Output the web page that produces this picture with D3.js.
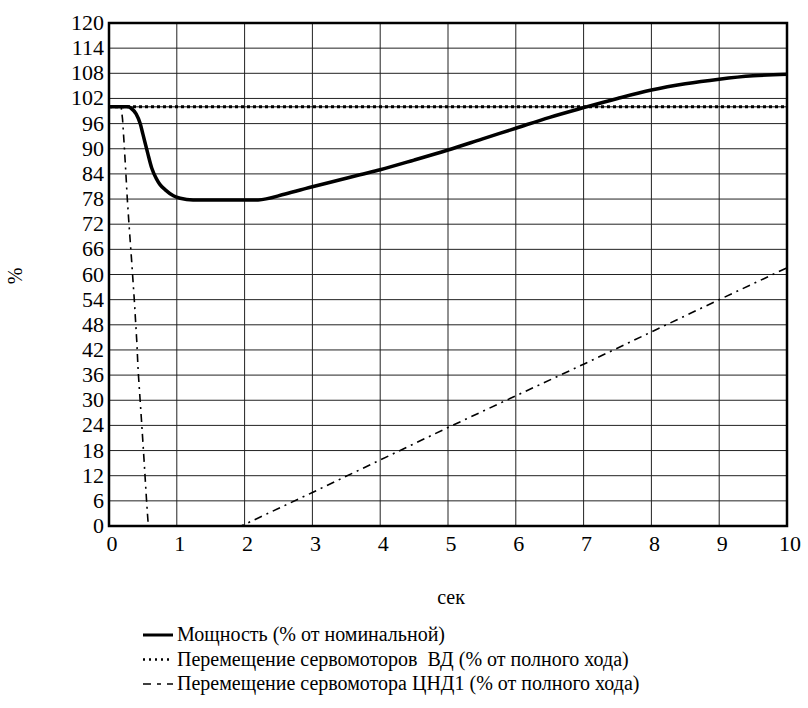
<!DOCTYPE html>
<html>
<head>
<meta charset="utf-8">
<script src="https://cdn.jsdelivr.net/npm/d3@7"></script>
<style>
  body { margin: 0; }
  svg#chart text { font-family: 'Liberation Serif', 'Times New Roman', serif !important; }
</style>
</head>
<body>
<svg id="chart" width="808" height="708"></svg>
<script>
// time, seconds
var powerT = [0, 0.28, 0.33, 0.4, 0.46, 0.5, 0.57, 0.63, 0.7, 0.75, 0.83, 0.95, 1.05, 1.24, 2.2, 2.6, 2.97, 3.41, 3.7, 4.0, 4.5, 5.0, 5.5, 6.0, 6.5, 7.0, 7.5, 8.0, 8.5, 9.0, 9.5, 10];
var powerV = [100, 100, 99.6, 98.3, 96, 93.5, 89, 85.4, 82.8, 81.5, 80.2, 78.8, 78.2, 77.8, 77.8, 79.2, 80.8, 82.6, 83.8, 85, 87.3, 89.7, 92.3, 94.9, 97.5, 99.8, 102, 104, 105.5, 106.6, 107.4, 107.8];

var vdT = [0, 10];
var vdV = [100, 100];

var cndT = [0, 0.18, 0.2, 0.22, 0.246, 0.27, 0.295, 0.335, 0.373, 0.41, 0.43, 0.48, 0.516, 0.556, 0.58, 1.95, 3, 5, 7, 9, 10];
var cndV = [100, 100, 97, 92, 85, 78, 72, 63, 54, 44, 37, 25, 16, 5.5, 0, 0, 8, 23.5, 38.6, 54, 61.6];

var xTicks = [0, 1, 2, 3, 4, 5, 6, 7, 8, 9, 10];
var yTicks = d3.range(0, 121, 6);

var legendLabels = [
  "Мощность (% от номинальной)",
  "Перемещение сервомоторов  ВД (% от полного хода)",
  "Перемещение сервомотора ЦНД1 (% от полного хода)"
];

var FONT = "'Liberation Serif', 'Times New Roman', serif";
var svg = d3.select('#chart');
var m = {left: 109, right: 787, top: 23, bottom: 526};

var x = d3.scaleLinear().domain([0, 10]).range([m.left, m.right]);
var y = d3.scaleLinear().domain([0, 120]).range([m.bottom, m.top]);

// grid
svg.append('g').selectAll('line').data(xTicks).join('line')
  .attr('x1', d => x(d)).attr('x2', d => x(d))
  .attr('y1', m.top).attr('y2', m.bottom)
  .attr('stroke', '#222').attr('stroke-width', 1);
svg.append('g').selectAll('line').data(yTicks).join('line')
  .attr('x1', m.left).attr('x2', m.right)
  .attr('y1', d => y(d)).attr('y2', d => y(d))
  .attr('stroke', '#222').attr('stroke-width', 1);

// tick labels
svg.selectAll('text.xt').data(xTicks).join('text').attr('class', 'xt')
  .attr('x', d => x(d) + 3).attr('y', m.bottom + 25)
  .attr('text-anchor', 'middle')
  .style('font-family', FONT, 'important').style('font-size', '22px')
  .text(d => d);

svg.selectAll('text.yt').data(yTicks).join('text').attr('class', 'yt')
  .attr('x', m.left - 5).attr('y', d => y(d) + 7)
  .attr('text-anchor', 'end')
  .style('font-family', FONT, 'important').style('font-size', '22px')
  .text(d => d);

// series
var line = d3.line().x(d => x(d[0])).y(d => y(d[1]));

var vdData = d3.zip(vdT, vdV);
svg.append('path').attr('d', line(vdData))
  .attr('fill', 'none').attr('stroke', '#000').attr('stroke-width', 1);
svg.append('path').attr('d', line(vdData))
  .attr('fill', 'none').attr('stroke', '#000').attr('stroke-width', 3)
  .attr('stroke-dasharray', '3,3');

svg.append('path').attr('d', line(d3.zip(cndT, cndV)))
  .attr('fill', 'none').attr('stroke', '#000').attr('stroke-width', 1.6)
  .attr('stroke-dasharray', '8,5,2,5');

svg.append('path').attr('d', d3.line().curve(d3.curveMonotoneX).x(d => x(d[0])).y(d => y(d[1]))(d3.zip(powerT, powerV)))
  .attr('fill', 'none').attr('stroke', '#000').attr('stroke-width', 3.5)
  .attr('stroke-linejoin', 'round');

// frame
svg.append('rect')
  .attr('x', m.left).attr('y', m.top)
  .attr('width', m.right - m.left).attr('height', m.bottom - m.top)
  .attr('fill', 'none').attr('stroke', '#000').attr('stroke-width', 2.5);

// axis titles
svg.append('text').attr('x', 451).attr('y', 604).attr('text-anchor', 'middle')
  .style('font-family', FONT, 'important').style('font-size', '20px').text('сек');
svg.append('text').attr('transform', 'translate(22,276) rotate(-90)').attr('text-anchor', 'middle')
  .style('font-family', FONT, 'important').style('font-size', '20px').text('%');

// legend
var dashes = [null, '2,4', '8,6,4,6'];
var widths = [3, 2.5, 1.6];
var lg = svg.append('g').selectAll('g').data(legendLabels).join('g')
  .attr('transform', (d, i) => 'translate(143,' + (641 + i * 24.5) + ')');
lg.append('line').attr('x1', 0).attr('x2', 30).attr('y1', -6).attr('y2', -6)
  .attr('stroke', '#000').attr('stroke-width', (d, i) => widths[i])
  .attr('stroke-dasharray', (d, i) => dashes[i]);
lg.append('text').attr('x', 34).attr('y', 0)
  .style('font-family', FONT, 'important').style('font-size', '20px').style('white-space', 'pre').text(d => d);
</script>
</body>
</html>
